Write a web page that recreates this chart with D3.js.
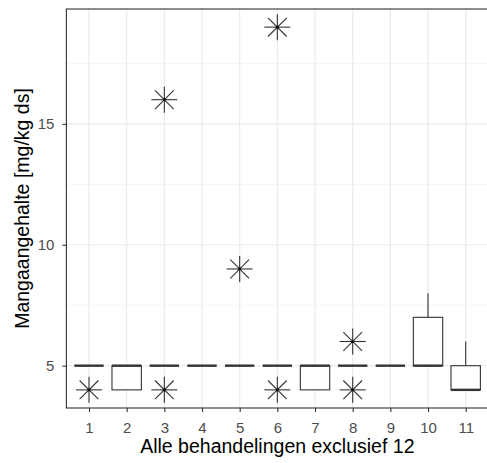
<!DOCTYPE html>
<html>
<head>
<meta charset="utf-8">
<script src="https://cdn.jsdelivr.net/npm/d3@7"></script>
<style>
  body { margin: 0; background: #fff; }
  svg { display: block; font-family: "Liberation Sans", Arial, sans-serif; }
</style>
</head>
<body>
<svg id="chart" width="487" height="463"></svg>
<script>
// boxplot stats per treatment
var categories = ["1", "2", "3", "4", "5", "6", "7", "8", "9", "10", "11"];
var q1         = [5, 4, 5, 5, 5, 5, 4, 5, 5, 5, 4];
var medians    = [5, 5, 5, 5, 5, 5, 5, 5, 5, 5, 4];
var q3         = [5, 5, 5, 5, 5, 5, 5, 5, 5, 7, 5];
var whiskLow   = [5, 4, 5, 5, 5, 5, 4, 5, 5, 5, 4];
var whiskHigh  = [5, 5, 5, 5, 5, 5, 5, 5, 5, 8, 6];
var outliers   = [[4], [], [4, 16], [], [9], [4, 19], [], [6, 4], [], [], []];
var yTicks     = [5, 10, 15];
var yMinor     = [7.5, 12.5, 17.5];

var svg = d3.select("#chart");
var margin = {left: 66.4, top: 9, right: 488.3, bottom: 408};

var x = d3.scalePoint().domain(categories).range([margin.left, margin.right]).padding(0.6);
var y = d3.scaleLinear().domain([3.25, 19.75]).range([margin.bottom, margin.top]);
var step = x.step();
var boxW = step * 0.78;
var ink = "#333333";

// grid
var grid = svg.append("g");
grid.selectAll(".minor").data(yMinor).enter().append("line")
    .attr("x1", margin.left).attr("x2", margin.right)
    .attr("y1", d => y(d)).attr("y2", d => y(d))
    .attr("stroke", "#f2f2f2").attr("stroke-width", 0.8);
grid.selectAll(".majory").data(yTicks).enter().append("line")
    .attr("x1", margin.left).attr("x2", margin.right)
    .attr("y1", d => y(d)).attr("y2", d => y(d))
    .attr("stroke", "#ebebeb").attr("stroke-width", 1.2);
grid.selectAll(".majorx").data(categories).enter().append("line")
    .attr("x1", d => x(d)).attr("x2", d => x(d))
    .attr("y1", margin.top).attr("y2", margin.bottom)
    .attr("stroke", "#ebebeb").attr("stroke-width", 1.2);

// boxes
var boxes = svg.append("g");
categories.forEach(function(c, i) {
    var cx = x(c);
    if (whiskHigh[i] > q3[i]) {
        boxes.append("line").attr("x1", cx).attr("x2", cx)
            .attr("y1", y(q3[i])).attr("y2", y(whiskHigh[i]))
            .attr("stroke", ink).attr("stroke-width", 1.1);
    }
    if (whiskLow[i] < q1[i]) {
        boxes.append("line").attr("x1", cx).attr("x2", cx)
            .attr("y1", y(q1[i])).attr("y2", y(whiskLow[i]))
            .attr("stroke", ink).attr("stroke-width", 1.1);
    }
    boxes.append("rect")
        .attr("x", cx - boxW / 2).attr("width", boxW)
        .attr("y", y(q3[i])).attr("height", y(q1[i]) - y(q3[i]))
        .attr("fill", "white").attr("stroke", ink).attr("stroke-width", 1.1);
    boxes.append("line")
        .attr("x1", cx - boxW / 2).attr("x2", cx + boxW / 2)
        .attr("y1", y(medians[i])).attr("y2", y(medians[i]))
        .attr("stroke", ink).attr("stroke-width", 2.4);
});

// outliers drawn as asterisks
var r = 13, d = r * 0.72;
categories.forEach(function(c, i) {
    outliers[i].forEach(function(v) {
        var g = svg.append("g").attr("transform", "translate(" + x(c) + "," + y(v) + ")")
            .attr("stroke", ink).attr("stroke-width", 1.1);
        g.append("line").attr("x1", -r).attr("x2", r).attr("y1", 0).attr("y2", 0);
        g.append("line").attr("x1", 0).attr("x2", 0).attr("y1", -r).attr("y2", r);
        g.append("line").attr("x1", -d).attr("x2", d).attr("y1", -d).attr("y2", d);
        g.append("line").attr("x1", -d).attr("x2", d).attr("y1", d).attr("y2", -d);
        g.append("circle").attr("r", 1.6).attr("fill", "#111").attr("stroke", "none");
    });
});

// panel border
svg.append("rect")
    .attr("x", margin.left).attr("y", margin.top)
    .attr("width", margin.right - margin.left).attr("height", margin.bottom - margin.top)
    .attr("fill", "none").attr("stroke", ink).attr("stroke-width", 1.1);

// axes
var xAxis = svg.append("g")
    .attr("transform", "translate(0," + margin.bottom + ")")
    .call(d3.axisBottom(x).tickSize(4).tickPadding(10));
var yAxis = svg.append("g")
    .attr("transform", "translate(" + margin.left + ",0)")
    .call(d3.axisLeft(y).tickValues(yTicks).tickSize(4).tickPadding(8));
[xAxis, yAxis].forEach(function(a) {
    a.select(".domain").remove();
    a.selectAll(".tick line").attr("stroke", ink).attr("stroke-width", 1.1);
    a.selectAll(".tick text").attr("fill", "#4d4d4d").style("font-size", "15px")
        .style("font-family", "Liberation Sans, Arial, sans-serif");
});

svg.append("text")
    .attr("x", (margin.left + margin.right) / 2)
    .attr("y", 453)
    .attr("text-anchor", "middle")
    .style("font-size", "19.5px")
    .attr("fill", "#000")
    .text("Alle behandelingen exclusief 12");

svg.append("text")
    .attr("transform", "translate(29," + ((margin.top + margin.bottom) / 2) + ") rotate(-90)")
    .attr("text-anchor", "middle")
    .style("font-size", "19.5px")
    .attr("fill", "#000")
    .text("Mangaangehalte [mg/kg ds]");
</script>
</body>
</html>
